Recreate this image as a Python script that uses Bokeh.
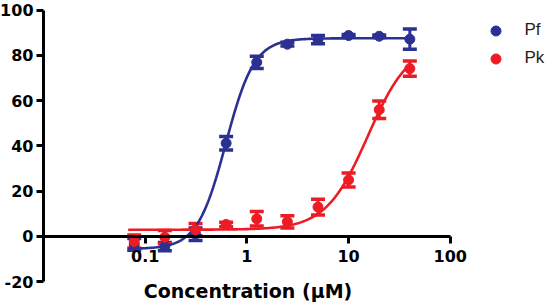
import numpy as np
from bokeh.plotting import figure
from bokeh.models import (Range1d, LogAxis, LinearAxis, FixedTicker, Whisker, TeeHead,
                          ColumnDataSource, Legend, LegendItem, Label)
from bokeh.embed import file_html
from bokeh.resources import INLINE

# ---- data ----
conc = [0.078, 0.156, 0.3125, 0.625, 1.25, 2.5, 5, 10, 20, 40]
pf_mean = [-3.5, -4.5, 1.0, 41.2, 77.0, 85.0, 87.0, 88.8, 88.5, 87.2]
pf_err = [2.6, 1.8, 2.8, 3.0, 2.7, 0.8, 1.8, 0.5, 0.5, 4.5]
pk_mean = [-2.2, -0.3, 3.0, 5.3, 7.8, 6.5, 13.0, 25.0, 56.0, 74.2]
pk_err = [2.9, 2.9, 2.7, 1.0, 3.2, 2.7, 3.5, 3.1, 3.9, 3.4]

# four-parameter logistic fit parameters (bottom, top, EC50, Hill)
pf_fit = [-5.5, 87.6, 0.62, 3.1]
pk_fit = [3.0, 86.0, 15.5, 2.1]
curve_span = [0.068, 40.0]

x_ticks = [0.1, 1, 10, 100]
x_tick_labels = ["0.1", "1", "10", "100"]
y_ticks = [-20, 0, 20, 40, 60, 80, 100]
y_tick_labels = ["-20", "0", "20", "40", "60", "80", "100"]

series_names = ["Pf", "Pk"]
colors = ["#2B3192", "#ED1C24"]
x_title = "Concentration (\u03bcM)"


def four_pl(x, bottom, top, ec50, hill):
    return bottom + (top - bottom) / (1.0 + (ec50 / x) ** hill)


p = figure(width=550, height=305, x_axis_type="log",
           x_range=Range1d(0.003777, 966.7), y_range=Range1d(-30.5, 104.3),
           output_backend="svg", toolbar_location=None, min_border=0,
           x_axis_location=None, y_axis_location=None, outline_line_color=None)
p.xgrid.visible = False
p.ygrid.visible = False

# axes
xaxis = LogAxis(fixed_location=0, bounds=(0.01, 100),
                ticker=FixedTicker(ticks=x_ticks, minor_ticks=[]),
                major_label_overrides=dict(zip(x_ticks, x_tick_labels)))
yaxis = LinearAxis(fixed_location=0.01, bounds=(-20, 100),
                   ticker=FixedTicker(ticks=y_ticks, minor_ticks=[]),
                   major_label_overrides=dict(zip(y_ticks, y_tick_labels)))
for ax in (xaxis, yaxis):
    ax.axis_line_width = 3
    ax.axis_line_color = "black"
    ax.major_tick_line_width = 3
    ax.major_tick_line_color = "black"
    ax.major_tick_out = 7
    ax.major_tick_in = 0
    ax.minor_tick_out = 0
    ax.minor_tick_in = 0
    ax.major_label_text_font = "DejaVu Sans"
    ax.major_label_text_font_style = "bold"
    ax.major_label_text_font_size = "16px"
    ax.major_label_text_color = "black"
xaxis.major_label_standoff = 7
yaxis.major_label_standoff = 3
p.add_layout(xaxis, "below")
p.add_layout(yaxis, "left")

p.add_layout(Label(x=1.025, y=-23.9, text=x_title, text_align="center",
                   text_baseline="middle", text_font="DejaVu Sans",
                   text_font_style="bold", text_font_size="19px",
                   text_color="black"))

renderers = []
for name, mean, err, fit, color in zip(series_names, [pf_mean, pk_mean],
                                       [pf_err, pk_err], [pf_fit, pk_fit], colors):
    src = ColumnDataSource(dict(
        x=conc, y=mean,
        upper=[m + e for m, e in zip(mean, err)],
        lower=[m - e for m, e in zip(mean, err)]))
    xs = np.logspace(np.log10(curve_span[0]), np.log10(curve_span[1]), 300)
    p.line(xs, four_pl(xs, *fit), line_color=color, line_width=2.6)
    p.add_layout(Whisker(source=src, base="x", upper="upper", lower="lower",
                         dimension="height", line_color=color, line_width=3,
                         upper_head=TeeHead(size=14, line_width=3.5, line_color=color),
                         lower_head=TeeHead(size=14, line_width=3.5, line_color=color)))
    r = p.scatter("x", "y", source=src, size=10, marker="circle",
                  fill_color=color, line_color=color)
    renderers.append(r)

legend = Legend(items=[LegendItem(label=n, renderers=[r]) for n, r in zip(series_names, renderers)],
                location=(482.5, 234.5), margin=0, padding=0, spacing=3,
                glyph_width=25, glyph_height=25, label_standoff=17,
                label_text_font="Liberation Sans", label_text_font_size="17px",
                label_text_color="#231f20", label_text_baseline="middle",
                border_line_alpha=0, background_fill_alpha=0)
p.add_layout(legend, "center")

open("out.html", "w").write(file_html(p, INLINE))
